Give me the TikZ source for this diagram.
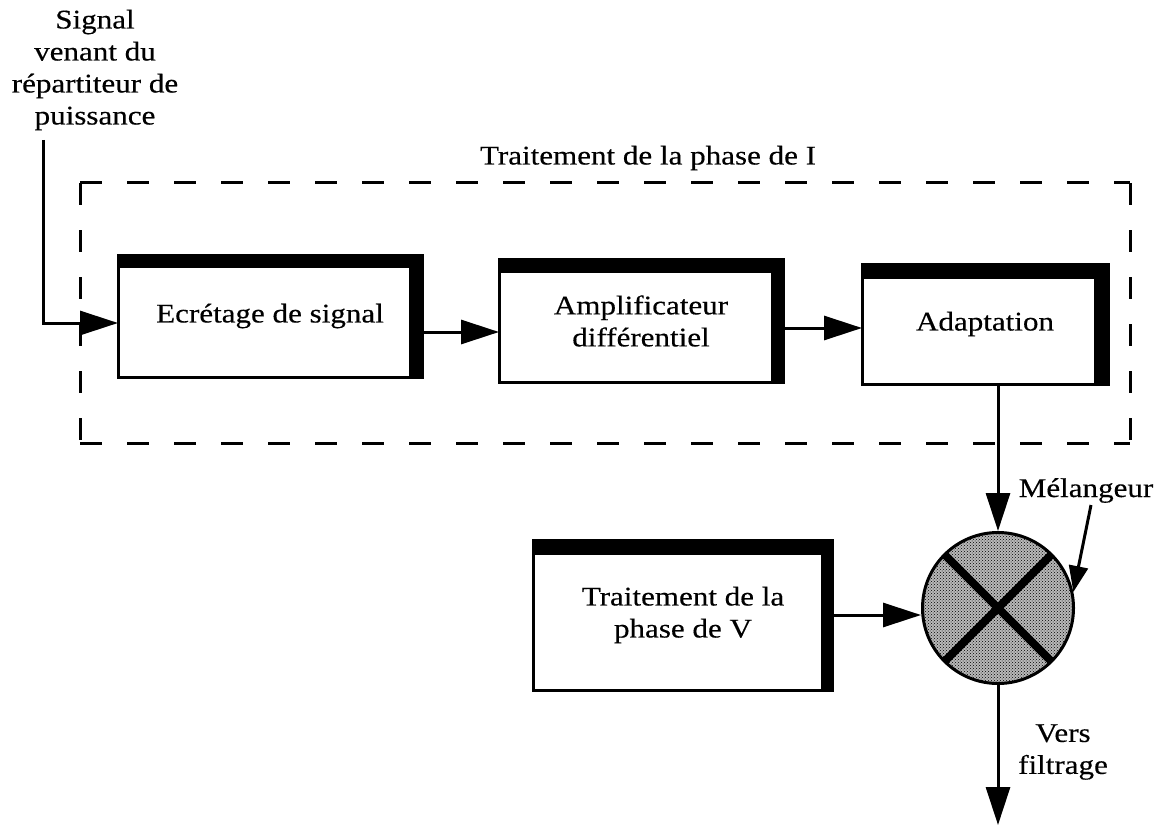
\documentclass[tikz,border=0pt]{standalone}
\usepackage{fontspec}
\setmainfont{Liberation Serif}[FakeStretch=1.15,FakeBold=0.35]
\usetikzlibrary{arrows.meta,patterns}
\begin{document}
\begin{tikzpicture}[x=1pt,y=-1pt,
  font=\fontsize{27}{32}\selectfont,
  blk/.style={draw,line width=3pt,fill=white,inner sep=0pt,outer sep=0pt,align=center},
  conn/.style={line width=3pt,-{Triangle[length=38pt,width=24pt]}},
  smallconn/.style={line width=3pt,-{Triangle[length=26pt,width=19pt]}},
  frame/.style={line width=3pt,dash pattern=on 22pt off 25pt},
  txt/.style={align=center,inner sep=0pt}]
\useasboundingbox[fill=white] (0,0) rectangle (1169,829);

% input label
\node[txt] (src) at (95,70) {Signal\\venant du\\répartiteur de\\puissance};

% dashed frame
\coordinate (f1) at (80,183);
\coordinate (f2) at (1130,183);
\coordinate (f3) at (1130,443);
\coordinate (f4) at (80,443);
\draw[frame] (f1) -- (f2);
\draw[frame] (f1) -- (f4);
\draw[frame] (f4) -- (f3);
\draw[frame] (f2) -- (f3);
\node[txt] (title) at (648,158) {Traitement de la phase de I};

% blocks
\node[blk,minimum width=304pt,minimum height=122pt] (box1) at (270,316) {Ecrétage de signal};
\node[blk,minimum width=284pt,minimum height=123pt] (box2) at (641,321) {Amplificateur\\différentiel};
\node[blk,minimum width=246pt,minimum height=120pt] (box3) at (985,324) {Adaptation};
\node[blk,minimum width=299pt,minimum height=150pt] (boxV) at (683,615) {Traitement de la\\phase de V};

% thick top and right bars
\foreach \b/\t/\r in {box1/13/13, box2/13/12, box3/15/14, boxV/15/12}{
  \fill (\b.north west) rectangle ([yshift=-\t pt]\b.north east);
  \fill ([xshift=-\r pt]\b.north east) rectangle (\b.south east);
}

% mixer
\node[circle,draw,line width=3pt,minimum size=151pt,inner sep=0pt,
      preaction={fill=gray!55},pattern=crosshatch dots,pattern color=black] (mix) at (998,608) {};
\draw[line width=8pt] ([shift={(-54pt,54pt)}]mix.center) -- ([shift={(54pt,-54pt)}]mix.center);
\draw[line width=8pt] ([shift={(54pt,54pt)}]mix.center) -- ([shift={(-54pt,-54pt)}]mix.center);

\node[txt,anchor=base] (mlab) at (1086,497) {Mélangeur};
\node[txt] (vlab) at (1063,752) {Vers\\filtrage};

% connectors
\coordinate (s0) at (43,140);
\draw[conn] (s0) |- (box1.west |- 0,323);
\draw[conn] (box1.east |- 0,332) -- (box2.west |- 0,332);
\draw[conn] (box2.east |- 0,328) -- (box3.west |- 0,328);
\draw[conn] (box3.south -| 998,0) -- (mix.north);
\draw[conn] (boxV.east |- 0,615) -- (mix.west |- 0,615);
\coordinate (m0) at (1091,505);
\draw[smallconn] (m0) -- (mix.12);
\coordinate (out) at (998,825);
\draw[conn] (mix.south) -- (out);
\end{tikzpicture}
\end{document}
